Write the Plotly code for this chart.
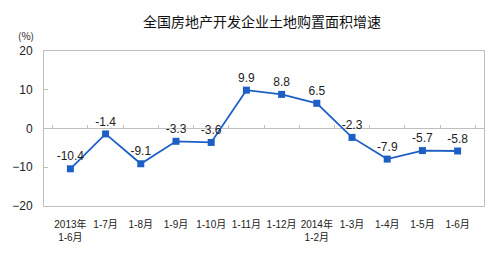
import plotly.graph_objects as go

categories = ["2013年<br>1-6月", "1-7月", "1-8月", "1-9月", "1-10月", "1-11月", "1-12月",
              "2014年<br>1-2月", "1-3月", "1-4月", "1-5月", "1-6月"]
values = [-10.4, -1.4, -9.1, -3.3, -3.6, 9.9, 8.8, 6.5, -2.3, -7.9, -5.7, -5.8]
labels = ["-10.4", "-1.4", "-9.1", "-3.3", "-3.6", "9.9", "8.8", "6.5", "-2.3", "-7.9", "-5.7", "-5.8"]
y_ticks = [-20, -10, 0, 10, 20]

blue = "#1E5FC6"
grey = "#BFBFBF"

fig = go.Figure()
fig.add_trace(go.Scatter(
    x=categories, y=values, mode="lines+markers+text",
    text=labels, textposition="top center",
    textfont=dict(family="Liberation Sans, Arial", size=12, color="#222"),
    line=dict(color=blue, width=1.8),
    marker=dict(symbol="square", size=7, color=blue),
    cliponaxis=False, showlegend=False,
))
# invisible trace to host the zero-line category ticks axis
fig.add_trace(go.Scatter(x=categories, y=values, xaxis="x2", mode="none",
                         showlegend=False, hoverinfo="skip"))

fig.update_layout(
    width=500, height=273,
    margin=dict(l=40, r=16, t=51, b=67),
    paper_bgcolor="white", plot_bgcolor="white",
    title=dict(text="全国房地产开发企业土地购置面积增速", x=0.524, xanchor="center",
               y=0.92, yanchor="middle",
               font=dict(family="Noto Sans CJK SC", size=14, color="#111")),
    xaxis=dict(type="category", showline=True, linecolor=grey, linewidth=1, mirror=True,
               ticks="", showgrid=False, zeroline=False, ticklabelstandoff=9,
               tickfont=dict(family="Liberation Sans, Noto Sans CJK SC", size=10, color="#222"),
               tickangle=0),
    xaxis2=dict(type="category", overlaying="x", anchor="free", position=0.5,
                showline=False, showgrid=False, showticklabels=False,
                ticks="inside", ticklen=4, tickcolor=grey, tickson="boundaries",
                matches="x"),
    yaxis=dict(range=[-20, 20], tickvals=y_ticks, showline=True, linecolor=grey,
               linewidth=1, mirror=True, showgrid=False, zeroline=True,
               zerolinecolor=grey, zerolinewidth=1, ticks="inside", ticklen=4,
               tickcolor=grey, ticklabelstandoff=8,
               tickfont=dict(family="Liberation Sans, Arial", size=12, color="#222")),
    annotations=[dict(text="(%)", xref="paper", yref="paper", x=-0.04, y=1.10,
                      xanchor="center", yanchor="middle", showarrow=False,
                      font=dict(family="Noto Sans CJK SC", size=10, color="#222"))],
)

fig.write_html("out.html")
